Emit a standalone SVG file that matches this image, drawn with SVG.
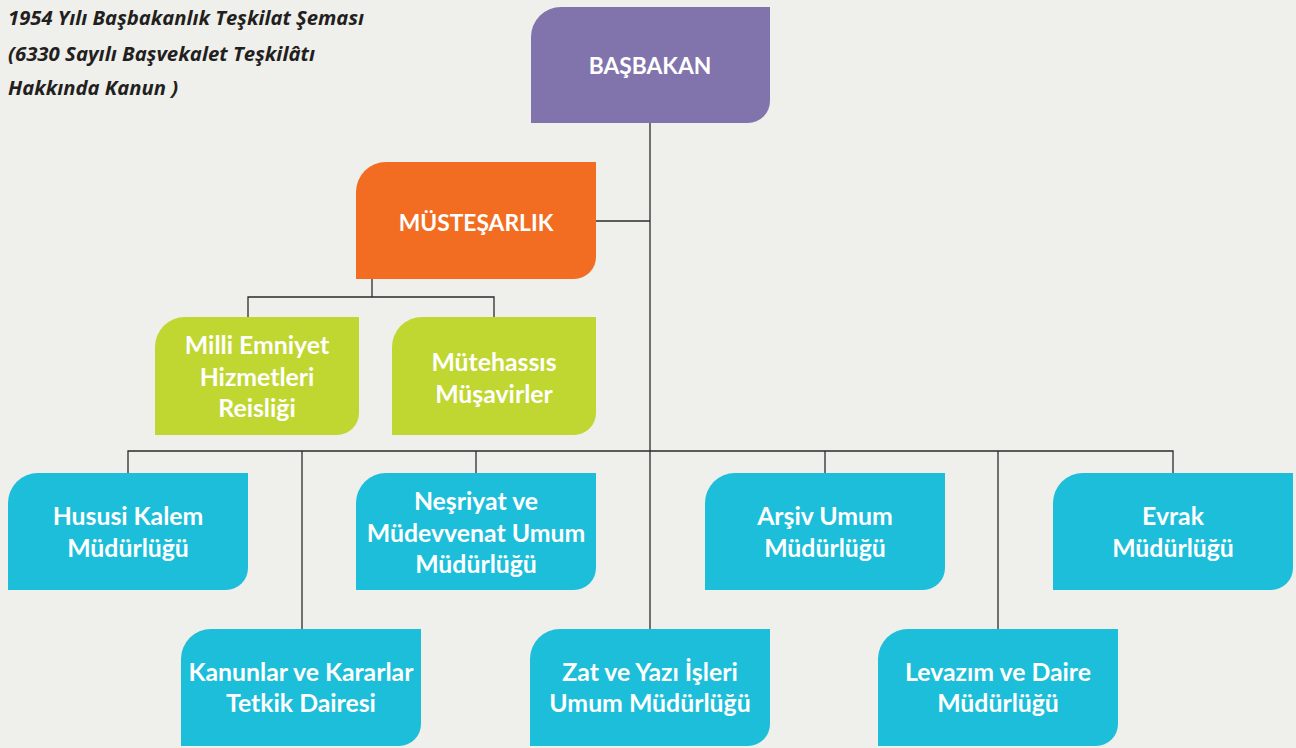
<svg xmlns="http://www.w3.org/2000/svg" width="1296" height="748" viewBox="0 0 1296 748">
<style>
.bg{fill:#EFEFEB}
.purple{fill:#8174AD}
.orange{fill:#F26D22}
.green{fill:#C0D731}
.cyan{fill:#1CBEDA}
.lbl{font-family:Lato,"Open Sans","Liberation Sans",sans-serif;font-weight:bold;font-size:24.8px;fill:#FFFFFF;text-anchor:middle}
.head{font-size:22.8px}
.title{font-family:"Open Sans",Lato,"Liberation Sans",sans-serif;font-weight:bold;font-style:italic;font-size:19.5px;fill:#231F20}
.conn{stroke:#2B2B2B;stroke-width:1.3;fill:none}
</style>
<rect class="bg" x="0" y="0" width="1296" height="748"/>
<g id="title">
<text class="title" x="8" y="25" textLength="356" lengthAdjust="spacingAndGlyphs">1954 Yılı Başbakanlık Teşkilat Şeması</text>
<text class="title" x="8" y="61" textLength="307" lengthAdjust="spacingAndGlyphs">(6330 Sayılı Başvekalet Teşkilâtı</text>
<text class="title" x="8" y="95" textLength="170" lengthAdjust="spacingAndGlyphs">Hakkında Kanun )</text>
</g>
<g id="connectors">
<path class="conn" d="M650 123 V629"/>
<path class="conn" d="M596 221 H650"/>
<path class="conn" d="M372 279 V297 M248 317 V297 H494 V317"/>
<path class="conn" d="M128 473 V451 H1173 V473 M476 451 V473 M825 451 V473 M302 451 V629 M998 451 V629"/>
</g>
<g id="basbakan">
<path class="purple" d="M531 123 V37 A30 30 0 0 1 561 7 H770 V101 A22 22 0 0 1 748 123 Z"/>
<text class="lbl head" x="650" y="74">BAŞBAKAN</text>
</g>
<g id="mustesarlik">
<path class="orange" d="M356 279 V192 A30 30 0 0 1 386 162 H596 V257 A22 22 0 0 1 574 279 Z"/>
<text class="lbl head" x="476" y="231">MÜSTEŞARLIK</text>
</g>
<g id="milli-emniyet">
<path class="green" d="M155 435 V347 A30 30 0 0 1 185 317 H359 V413 A22 22 0 0 1 337 435 Z"/>
<text class="lbl" x="257" y="354">Milli Emniyet</text>
<text class="lbl" x="257" y="386">Hizmetleri</text>
<text class="lbl" x="257" y="417">Reisliği</text>
</g>
<g id="mutehassis">
<path class="green" d="M392 435 V347 A30 30 0 0 1 422 317 H596 V413 A22 22 0 0 1 574 435 Z"/>
<text class="lbl" x="494" y="371">Mütehassıs</text>
<text class="lbl" x="494" y="403">Müşavirler</text>
</g>
<g id="hususi-kalem">
<path class="cyan" d="M8 590 V503 A30 30 0 0 1 38 473 H248 V568 A22 22 0 0 1 226 590 Z"/>
<text class="lbl" x="128" y="525">Hususi Kalem</text>
<text class="lbl" x="128" y="557">Müdürlüğü</text>
</g>
<g id="nesriyat">
<path class="cyan" d="M356 590 V503 A30 30 0 0 1 386 473 H596 V568 A22 22 0 0 1 574 590 Z"/>
<text class="lbl" x="476" y="510">Neşriyat ve</text>
<text class="lbl" x="476" y="542">Müdevvenat Umum</text>
<text class="lbl" x="476" y="573">Müdürlüğü</text>
</g>
<g id="arsiv">
<path class="cyan" d="M705 590 V503 A30 30 0 0 1 735 473 H945 V568 A22 22 0 0 1 923 590 Z"/>
<text class="lbl" x="825" y="525">Arşiv Umum</text>
<text class="lbl" x="825" y="557">Müdürlüğü</text>
</g>
<g id="evrak">
<path class="cyan" d="M1053 590 V503 A30 30 0 0 1 1083 473 H1293 V568 A22 22 0 0 1 1271 590 Z"/>
<text class="lbl" x="1173" y="525">Evrak</text>
<text class="lbl" x="1173" y="557">Müdürlüğü</text>
</g>
<g id="kanunlar">
<path class="cyan" d="M181 746 V659 A30 30 0 0 1 211 629 H421 V724 A22 22 0 0 1 399 746 Z"/>
<text class="lbl" x="301" y="681">Kanunlar ve Kararlar</text>
<text class="lbl" x="301" y="712">Tetkik Dairesi</text>
</g>
<g id="zat-yazi">
<path class="cyan" d="M530 746 V659 A30 30 0 0 1 560 629 H770 V724 A22 22 0 0 1 748 746 Z"/>
<text class="lbl" x="650" y="681">Zat ve Yazı İşleri</text>
<text class="lbl" x="650" y="712">Umum Müdürlüğü</text>
</g>
<g id="levazim">
<path class="cyan" d="M878 746 V659 A30 30 0 0 1 908 629 H1118 V724 A22 22 0 0 1 1096 746 Z"/>
<text class="lbl" x="998" y="681">Levazım ve Daire</text>
<text class="lbl" x="998" y="712">Müdürlüğü</text>
</g>
</svg>
